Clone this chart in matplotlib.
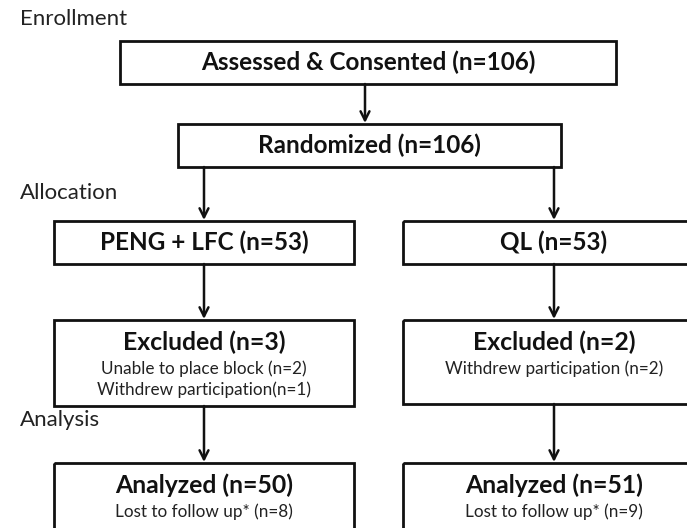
import matplotlib
matplotlib.use("Agg")
import matplotlib.pyplot as plt
from matplotlib.patches import Rectangle

# stage labels on the left
stages = ["Enrollment", "Allocation", "Analysis"]
stage_y = [19, 193, 420]

# box texts: (title, detail lines)
titles = ["Assessed & Consented (n=106)", "Randomized (n=106)",
          "PENG + LFC (n=53)", "QL (n=53)",
          "Excluded (n=3)", "Excluded (n=2)",
          "Analyzed (n=50)", "Analyzed (n=51)"]
details = [[], [],
           [], [],
           ["Unable to place block (n=2)", "Withdrew participation(n=1)"],
           ["Withdrew participation (n=2)"],
           ["Lost to follow up* (n=8)"],
           ["Lost to follow up* (n=9)"]]

# layout: x0, x1, y0, y1 in pixels (y downward)
boxes = [(120, 616, 41, 84), (178, 561, 124, 167),
         (54, 354, 221, 264), (403, 705, 221, 264),
         (54, 354, 320, 406), (403, 705, 320, 404),
         (54, 354, 463, 540), (403, 705, 463, 540)]
title_size = [17.5, 17.5, 17.5, 17.5, 17.8, 17.8, 17.8, 17.8]

plt.rcParams['font.family'] = ['Lato', 'DejaVu Sans']
fig = plt.figure(figsize=(6.87, 5.28), dpi=100)
ax = fig.add_axes([0, 0, 1, 1])
ax.set_xlim(0, 687)
ax.set_ylim(528, 0)
ax.axis('off')

lc = '#111111'
for (x0, x1, y0, y1), t, d, fs in zip(boxes, titles, details, title_size):
    ax.add_patch(Rectangle((x0, y0), x1 - x0, y1 - y0, fill=False,
                           ec=lc, lw=2.0, clip_on=True))
    cx = (x0 + x1) / 2
    if d:
        ty = y0 + 22
    else:
        ty = (y0 + y1) / 2
    ax.text(cx, ty, t, ha='center', va='center', fontsize=fs,
            fontweight='bold', color=lc)
    for i, line in enumerate(d):
        ax.text(cx, ty + 27 + i * 21, line, ha='center', va='center',
                fontsize=12.3, color='#222222')

for s, y in zip(stages, stage_y):
    ax.text(20, y, s, ha='left', va='center', fontsize=16, color='#222222')


def arrow(x, y0, y1):
    ax.annotate('', xy=(x, y1), xytext=(x, y0),
                arrowprops=dict(arrowstyle='->', color=lc, lw=1.8,
                                mutation_scale=16, shrinkA=0, shrinkB=0))


arrow(365, 84, 123)
arrow(204, 167, 220)
arrow(554, 167, 220)
arrow(204, 264, 319)
arrow(554, 264, 319)
arrow(204, 406, 462)
arrow(554, 404, 462)

fig.savefig('out.png', dpi=100)
